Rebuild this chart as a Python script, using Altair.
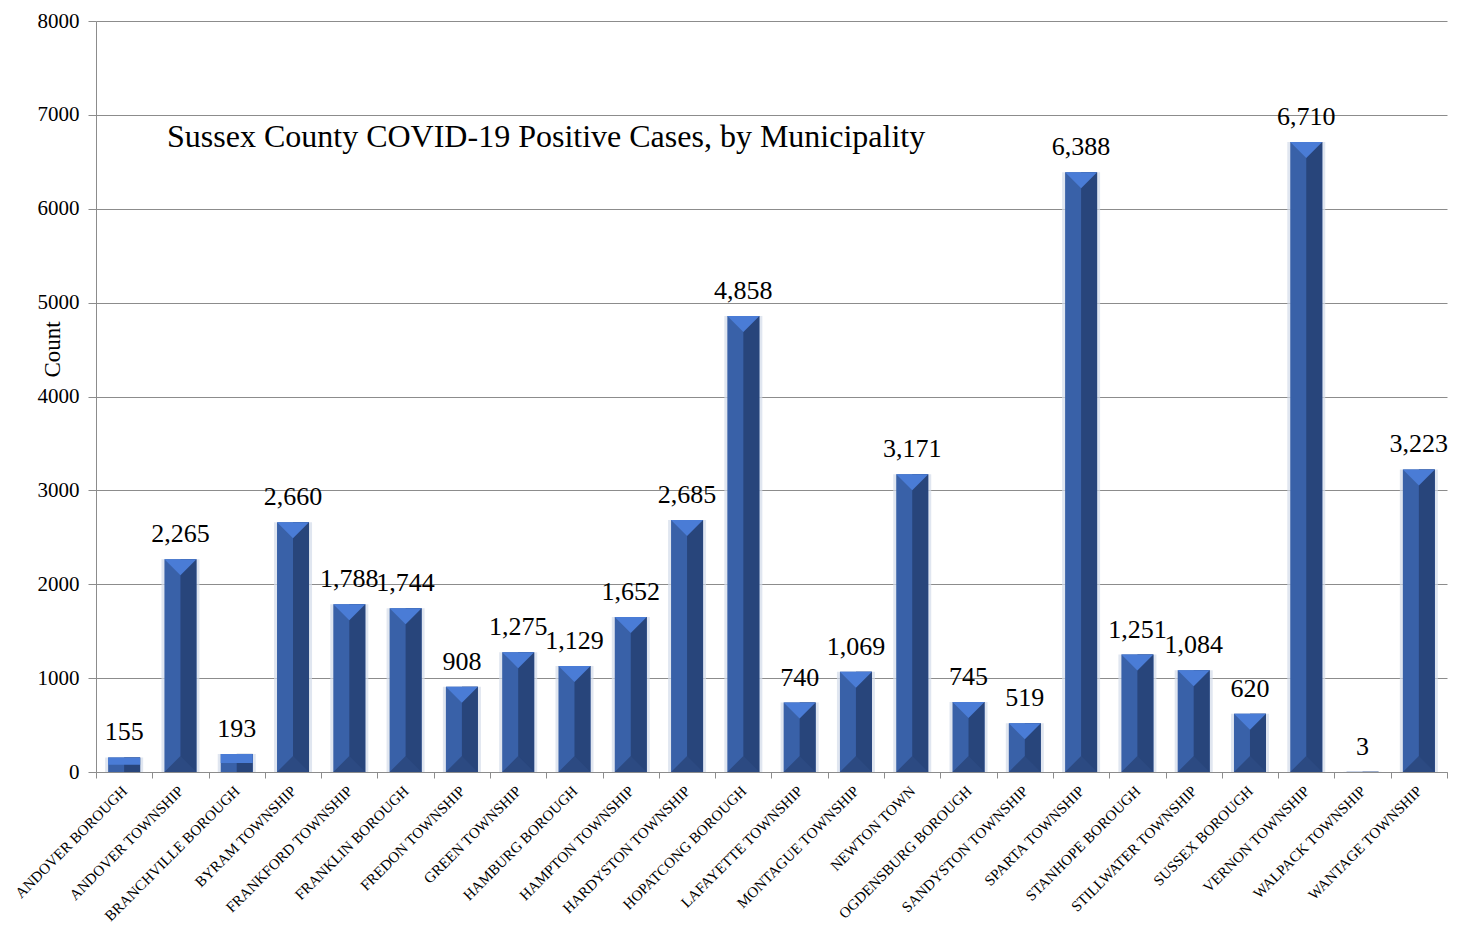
import altair as alt
import pandas as pd

municipalities = [
    "ANDOVER BOROUGH", "ANDOVER TOWNSHIP", "BRANCHVILLE BOROUGH", "BYRAM TOWNSHIP",
    "FRANKFORD TOWNSHIP", "FRANKLIN BOROUGH", "FREDON TOWNSHIP", "GREEN TOWNSHIP",
    "HAMBURG BOROUGH", "HAMPTON TOWNSHIP", "HARDYSTON TOWNSHIP", "HOPATCONG BOROUGH",
    "LAFAYETTE TOWNSHIP", "MONTAGUE TOWNSHIP", "NEWTON TOWN", "OGDENSBURG BOROUGH",
    "SANDYSTON TOWNSHIP", "SPARTA TOWNSHIP", "STANHOPE BOROUGH", "STILLWATER TOWNSHIP",
    "SUSSEX BOROUGH", "VERNON TOWNSHIP", "WALPACK TOWNSHIP", "WANTAGE TOWNSHIP",
]
counts = [155, 2265, 193, 2660, 1788, 1744, 908, 1275, 1129, 1652, 2685, 4858,
          740, 1069, 3171, 745, 519, 6388, 1251, 1084, 620, 6710, 3, 3223]
y_ticks = [0, 1000, 2000, 3000, 4000, 5000, 6000, 7000, 8000]
title_text = "Sussex County COVID-19 Positive Cases, by Municipality"

df = pd.DataFrame({"name": municipalities, "count": counts})

FONT = "Liberation Serif"
GRAY = "#8c8c8c"
LEFT = "#3961A8"
RIGHT = "#28457B"
TOP = "#4A7CD6"
BOTTOM = "#2C4A82"

PAD_TOP = 13
PLOT_H = 772 - 8 - PAD_TOP

x_enc = alt.X(
    "name:N", sort=None,
    scale=alt.Scale(paddingInner=0, paddingOuter=0),
    axis=alt.Axis(
        title=None, labelAngle=-45, labelAlign="right", labelBaseline="middle",
        labelFont=FONT, labelFontSize=15, labelColor="black", labelPadding=10,
        labelLimit=400, tickBand="extent", tickSize=6, tickColor=GRAY,
        domainColor=GRAY, grid=False, labelOverlap=False,
    ),
)
y_enc = alt.Y(
    "count:Q",
    scale=alt.Scale(domain=[0, 8000], nice=False),
    axis=alt.Axis(
        values=y_ticks, format="d", grid=True, gridColor=GRAY, gridWidth=1,
        domainColor=GRAY, tickColor=GRAY, tickSize=8, labelFont=FONT,
        labelFontSize=21, labelColor="black", labelPadding=9,
        title="Count", titleFont=FONT, titleFontSize=23, titleFontWeight="normal",
        titleColor="black", titleAngle=-90, titleX=-44, titleY=349 - 8 - PAD_TOP,
        titleAlign="center", titleBaseline="middle",
    ),
)

base = alt.Chart(df).encode(x=x_enc)

halo = base.mark_bar(width=38, color="#d3dcea", opacity=0.7).encode(y=y_enc)
left = base.mark_bar(width=32, color=LEFT).encode(y=y_enc)
right = base.mark_bar(width=16, xOffset=8, color=RIGHT).encode(y=alt.Y("count:Q"))

tall = base.transform_filter("datum.count >= 340")
bottom_tri = tall.mark_point(
    shape="M -1 0 L 1 0 L 0 -1 Z", size=1024, filled=True, color=BOTTOM,
    opacity=1, strokeWidth=0,
).encode(y=alt.datum(0))
top_tri = tall.mark_point(
    shape="M -1 0 L 1 0 L 0 1 Z", size=1024, filled=True, color=TOP,
    opacity=1, strokeWidth=0,
).encode(y=alt.Y("count:Q"))

short = base.transform_filter("datum.count < 340").transform_calculate(
    half="datum.count / 2"
)
short_top = short.mark_bar(width=32, color=TOP).encode(
    y=alt.Y("count:Q"), y2=alt.Y2("half:Q")
)

labels = base.mark_text(
    font=FONT, fontSize=26, color="black", baseline="alphabetic", dy=-17,
).encode(y=alt.Y("count:Q"), text=alt.Text("count:Q", format=","))

title = alt.Chart(pd.DataFrame({"t": [title_text]})).mark_text(
    font=FONT, fontSize=32, color="black", align="left", baseline="middle",
).encode(text="t:N", x=alt.value(71), y=alt.value(137 - 8 - PAD_TOP))

chart = alt.layer(
    halo, left, right, bottom_tri, top_tri, short_top, labels, title
).properties(
    width=1351, height=PLOT_H,
    autosize=alt.AutoSizeParams(type="none"),
    padding={"left": 88, "top": PAD_TOP, "right": 5, "bottom": 160},
).configure_view(strokeWidth=0)

chart.save("out.html", embed_options={"renderer": "svg", "actions": False})
